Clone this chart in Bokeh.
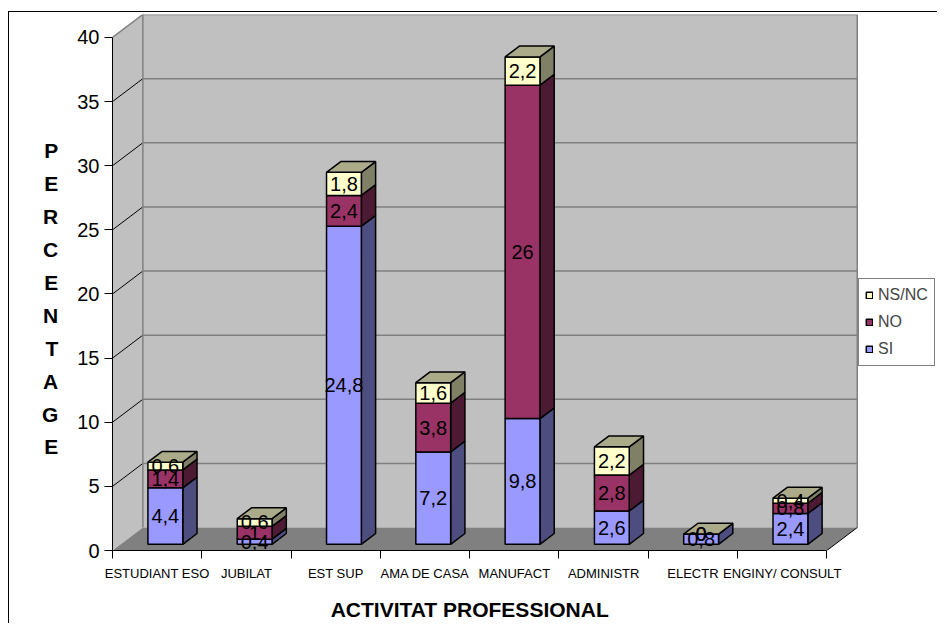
from bokeh.plotting import figure
from bokeh.models import Range1d, FixedTicker, Legend, LegendItem, LinearAxis
from bokeh.embed import file_html
from bokeh.resources import INLINE

# ---- data ----
categories = ["ESTUDIANT ESO", "JUBILAT", "EST SUP", "AMA DE CASA",
              "MANUFACT", "ADMINISTR", "ELECTR", "ENGINY/ CONSULT"]
si = [4.4, 0.4, 24.8, 7.2, 9.8, 2.6, 0.8, 2.4]
no = [1.4, 1.0, 2.4, 3.8, 26.0, 2.8, 0.0, 0.8]
nsnc = [0.6, 0.6, 1.8, 1.6, 2.2, 2.2, 0.0, 0.4]
series_names = ["SI", "NO", "NS/NC"]
y_ticks = [0, 5, 10, 15, 20, 25, 30, 35, 40]
y_max = 40
x_title = "ACTIVITAT PROFESSIONAL"
y_title = "PERCENTAGE"

# ---- 3D look (data units) ----
n = len(categories)
DX, DY = 0.34, 1.79      # depth of the box
F0, FD = 0.27, 0.47      # bar front position / bar depth, fraction of box depth
BW = 0.39                # bar width (category units)
X_END = 9.25             # frame extends to the right to hold the legend

front_col = ["#9999FF", "#993366", "#FFFFCC"]
side_col = ["#4D4D80", "#4D1A33", "#808066"]
top_col = "#ABAB8A"

FONT = "Liberation Sans"

p = figure(width=929, height=612, output_backend="svg", toolbar_location=None,
           x_range=Range1d(0, X_END), y_range=Range1d(0, y_max + DY),
           min_border_left=103, min_border_right=0, min_border_top=2,
           min_border_bottom=74)
p.styles = {"border-left": "1px solid black", "border-top": "1px solid black",
            "margin-top": "11px", "margin-left": "8px"}
p.title.visible = False
p.xgrid.visible = False
p.ygrid.visible = False
p.outline_line_color = None
p.background_fill_color = "white"

# walls and floor
p.patch([0, 0, DX, DX], [0, y_max, y_max + DY, DY], fill_color="#C0C0C0", line_color=None)
p.quad(left=[DX], right=[n + DX], bottom=[DY], top=[y_max + DY], fill_color="#C0C0C0", line_color=None)
p.patch([0, n, n + DX, DX], [0, 0, DY, DY], fill_color="#808080", line_color=None)

grid_vals = [v for v in y_ticks if v > 0]
p.segment(x0=[DX] * len(grid_vals), y0=[v + DY for v in grid_vals],
          x1=[n + DX] * len(grid_vals), y1=[v + DY for v in grid_vals],
          line_color="#808080", line_width=1.5)
inner = [v for v in grid_vals if v < y_max]
p.segment(x0=[0] * len(inner), y0=inner, x1=[DX] * len(inner), y1=[v + DY for v in inner],
          line_color="black", line_width=1)
p.segment(x0=[0], y0=[y_max], x1=[DX], y1=[y_max + DY], line_color="#808080", line_width=1.5)
p.segment(x0=[DX, n + DX], y0=[DY, DY], x1=[DX, n + DX], y1=[y_max + DY, y_max + DY],
          line_color="#808080", line_width=1.5)
p.segment(x0=[n], y0=[0], x1=[n + DX], y1=[DY], line_color="black", line_width=1)

# bars
series = [si, no, nsnc]
base = [0.0] * n
fronts = []
lab_x, lab_y, lab_t = [], [], []
for s, vals in enumerate(series):
    left = [i + 0.5 - BW / 2 + F0 * DX for i in range(n)]
    right = [l + BW for l in left]
    bot = [b + F0 * DY for b in base]
    top = [b + v + F0 * DY for b, v in zip(base, vals)]
    xs = [[r, r + FD * DX, r + FD * DX, r] for r in right]
    ys = [[b0, b0 + FD * DY, t0 + FD * DY, t0] for b0, t0 in zip(bot, top)]
    p.patches(xs, ys, fill_color=side_col[s], line_color="black", line_width=1.5)
    r = p.quad(left=left, right=right, bottom=bot, top=top,
               fill_color=front_col[s], line_color="black", line_width=1.5)
    fronts.append(r)
    for i, v in enumerate(vals):
        lab_x.append(i + 0.5 + F0 * DX)
        lab_y.append(base[i] + v / 2 + F0 * DY)
        lab_t.append(f"{v:g}".replace(".", ","))
    base = [b + v for b, v in zip(base, vals)]
    if s == len(series) - 1:
        txs = [[l, r_, r_ + FD * DX, l + FD * DX] for l, r_ in zip(left, right)]
        tys = [[t0, t0, t0 + FD * DY, t0 + FD * DY] for t0 in top]
        p.patches(txs, tys, fill_color=top_col, line_color="black", line_width=1.5)

p.text(x=lab_x, y=lab_y, text=lab_t, text_align="center", text_baseline="middle",
       text_font_size="20px", text_color="black", text_font={"value": FONT})

# axes
p.yaxis.ticker = FixedTicker(ticks=y_ticks)
p.yaxis.bounds = (0, y_max)
p.yaxis.major_tick_out = 8
p.yaxis.major_tick_in = 0
p.yaxis.minor_tick_line_color = None
p.yaxis.axis_line_color = "black"
p.yaxis.major_tick_line_color = "black"
p.yaxis.major_label_text_font = FONT
p.yaxis.major_label_text_font_size = "20px"
p.yaxis.major_label_text_color = "black"
p.yaxis.major_label_standoff = 5
p.yaxis.axis_label = "\n" + "\n".join(y_title)
p.yaxis.axis_label_orientation = "horizontal"
p.yaxis.axis_label_text_font = FONT
p.yaxis.axis_label_text_font_size = "21px"
p.yaxis.axis_label_text_font_style = "bold"
p.yaxis.axis_label_text_color = "black"
p.yaxis.axis_label_text_line_height = 1.43
p.yaxis.axis_label_standoff = 16

centers = [i + 0.5 for i in range(n)]
p.xaxis.ticker = FixedTicker(ticks=centers, minor_ticks=list(range(n + 1)))
p.xaxis.bounds = (0, n)
p.xaxis.major_label_overrides = {c: name for c, name in zip(centers, categories)}
p.xaxis.major_tick_out = 0
p.xaxis.major_tick_in = 0
p.xaxis.minor_tick_out = 8
p.xaxis.minor_tick_in = 0
p.xaxis.minor_tick_line_color = "black"
p.xaxis.axis_line_color = "black"
p.xaxis.major_label_text_font = FONT
p.xaxis.major_label_text_font_size = "13px"
p.xaxis.major_label_text_color = "black"
p.xaxis.major_label_standoff = 7

# x title: one centred tick label on a bare axis below the category axis
title_axis = LinearAxis(ticker=FixedTicker(ticks=[n / 2]),
                        major_label_overrides={n / 2: x_title},
                        axis_line_color=None, major_tick_line_color=None,
                        minor_tick_line_color=None,
                        major_label_text_font=FONT, major_label_text_font_size="21px",
                        major_label_text_font_style="bold", major_label_text_color="black",
                        major_label_standoff=8)
p.add_layout(title_axis, "below")

legend = Legend(items=[LegendItem(label=series_names[2], renderers=[fronts[2]]),
                       LegendItem(label=series_names[1], renderers=[fronts[1]]),
                       LegendItem(label=series_names[0], renderers=[fronts[0]])],
                location=(746, 184), border_line_color="black", border_line_width=1,
                background_fill_color="white", background_fill_alpha=1,
                label_text_font=FONT, label_text_font_size="16px",
                glyph_width=8, glyph_height=8, label_height=20, spacing=7,
                padding=6, margin=0, label_standoff=5)
p.add_layout(legend)

open("out.html", "w").write(file_html(p, INLINE))
